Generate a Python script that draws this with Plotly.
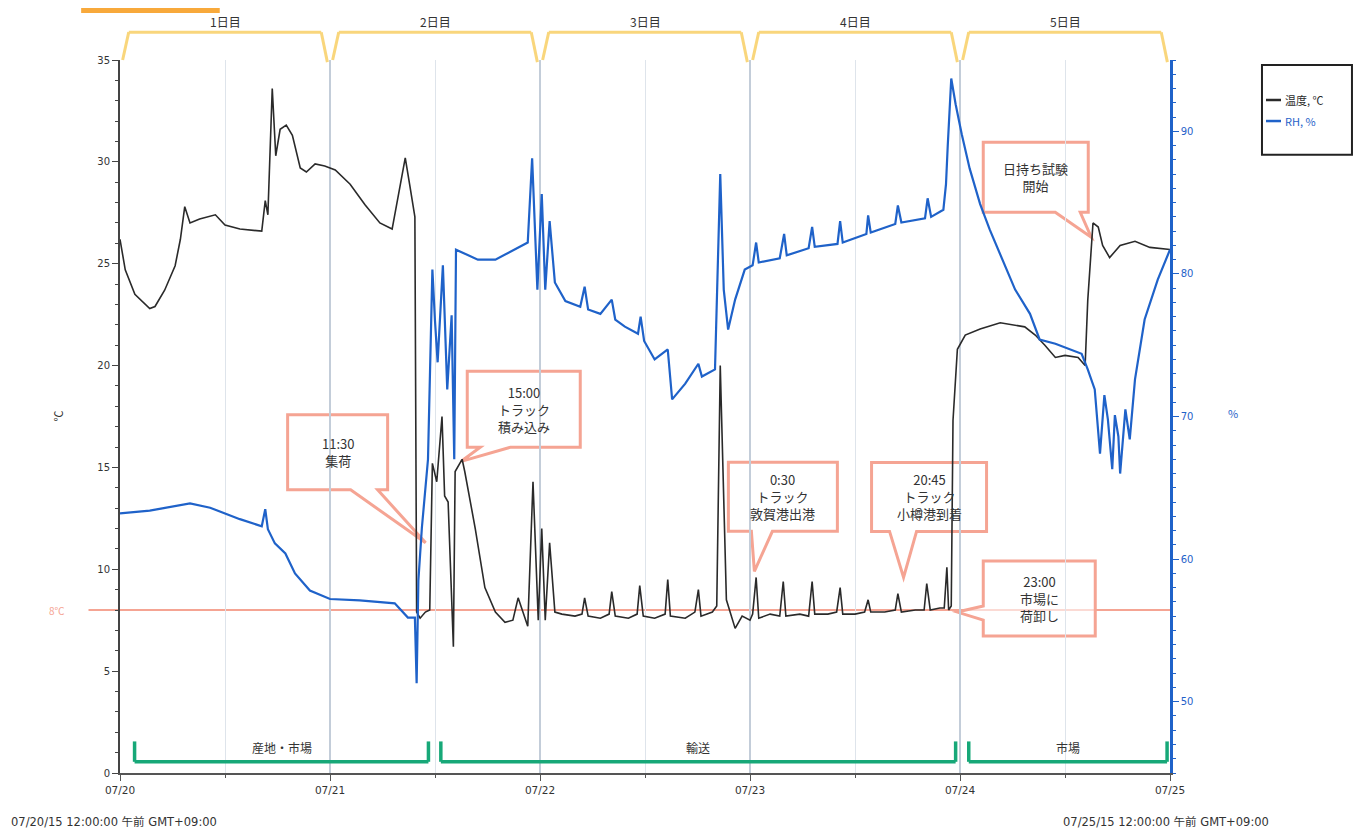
import pandas as pd
import plotly.graph_objects as go

START = pd.Timestamp("2015-07-20 00:00")

# ---- data (hours since 07/20 00:00) ----
temp_hours = [0.0, 0.6, 1.7, 3.4, 4.0, 5.1, 6.3, 6.9, 7.4, 8.0, 9.1, 10.9, 12.0, 13.7, 16.2, 16.6, 16.9,
              17.4, 17.8, 18.3, 19.0, 19.7, 20.6, 21.3, 22.3, 23.4, 24.6, 26.3, 28.0, 29.7, 31.1, 32.0,
              32.6, 33.1, 33.7, 33.9, 34.3, 34.9, 35.4, 35.7, 36.2, 36.8, 37.1, 37.5, 38.1, 38.3, 39.1,
              39.4, 40.6, 41.7, 42.9, 44.0, 44.9, 45.5, 46.6, 47.2, 47.8, 48.2, 48.6, 49.1, 49.7, 50.5,
              52.0, 52.8, 53.1, 53.5, 54.9, 55.9, 56.2, 56.6, 58.1, 59.1, 59.4, 59.8, 61.1, 62.3, 62.6,
              62.9, 64.6, 65.7, 66.1, 66.4, 67.7, 68.2, 68.6, 69.3, 70.3, 71.1, 72.0, 72.3, 72.7, 73.0,
              74.3, 75.4, 75.8, 76.1, 77.7, 78.7, 79.1, 79.4, 80.9, 81.9, 82.3, 82.6, 84.0, 85.1, 85.5,
              85.8, 87.4, 88.6, 88.9, 89.3, 90.9, 91.9, 92.2, 92.6, 93.7, 94.2, 94.5, 94.7, 95.0, 95.2,
              95.7, 96.6, 98.3, 100.6, 103.4, 104.6, 105.7, 106.9, 108.0, 109.5, 110.3, 110.6, 111.2,
              111.8, 112.3, 113.1, 114.3, 116.0, 117.7, 120.0]
temp_values = [26.2, 24.7, 23.5, 22.8, 22.9, 23.7, 24.9, 26.2, 27.8, 27.0, 27.2, 27.4, 26.9, 26.7, 26.6, 28.1, 27.4,
               33.6, 30.3, 31.6, 31.8, 31.3, 29.7, 29.5, 29.9, 29.8, 29.6, 28.9, 27.9, 27.0, 26.7, 28.9,
               30.2, 28.9, 27.3, 7.9, 7.6, 7.9, 8.0, 15.2, 14.3, 17.5, 13.6, 13.3, 6.2, 14.8, 15.4,
               14.8, 12.0, 9.1, 7.9, 7.4, 7.5, 8.6, 7.2, 14.3, 7.5, 12.0, 7.5, 11.3, 7.9, 7.8,
               7.7, 7.8, 8.6, 7.7, 7.6, 7.8, 8.9, 7.7, 7.6, 7.8, 9.2, 7.7, 7.6, 7.8, 9.5,
               7.7, 7.6, 7.9, 9.0, 7.7, 7.9, 8.2, 20.0, 8.5, 7.1, 7.7, 7.5, 7.8, 9.6, 7.6,
               7.8, 7.7, 9.4, 7.7, 7.8, 7.7, 9.4, 7.8, 7.8, 7.9, 9.1, 7.8, 7.8, 7.9, 8.5,
               7.9, 7.9, 8.0, 8.8, 7.9, 8.0, 8.0, 9.3, 8.0, 8.1, 8.1, 10.1, 8.0, 8.2, 17.3,
               20.8, 21.5, 21.8, 22.1, 21.9, 21.5, 21.0, 20.4, 20.5, 20.4, 20.0, 23.2, 27.0,
               26.8, 25.9, 25.3, 25.9, 26.1, 25.8, 25.7]

rh_hours = [0.0, 3.4, 8.0, 10.3, 13.7, 16.2, 16.6, 16.9, 17.7, 18.9, 20.0, 21.7, 24.0, 27.4, 31.4, 32.9,
            33.7, 33.9, 34.1, 34.5, 35.2, 35.7, 36.0, 36.3, 36.9, 37.4, 37.9, 38.2, 38.4, 39.1, 40.9,
            42.9, 45.1, 46.6, 47.1, 47.7, 48.2, 48.6, 49.1, 49.7, 50.9, 52.6, 53.1, 53.5, 54.9, 56.2,
            56.6, 57.7, 59.2, 59.5, 59.9, 61.1, 62.6, 63.1, 64.6, 66.1, 66.5, 68.0, 68.6, 69.0, 69.5,
            70.3, 71.4, 72.3, 72.7, 73.0, 75.4, 75.9, 76.2, 78.7, 79.1, 79.4, 82.0, 82.3, 82.6, 85.3,
            85.5, 85.8, 88.6, 88.9, 89.3, 92.0, 92.3, 92.7, 94.1, 94.4, 94.6, 95.0, 95.5, 96.2, 97.1,
            98.3, 99.4, 100.6, 102.3, 104.0, 105.1, 106.9, 108.6, 109.9, 110.6, 111.4, 112.0, 112.5,
            112.9, 113.4, 113.7, 114.1, 114.3, 114.9, 115.4, 116.0, 117.1, 118.6, 120.0]
rh_values = [63.2, 63.4, 63.9, 63.6, 62.8, 62.3, 63.5, 62.1, 61.1, 60.4, 59.0, 57.8, 57.2, 57.1, 56.9, 55.9,
             55.9, 51.3, 58.5, 62.2, 67.0, 80.3, 76.7, 73.8, 80.6, 71.9, 77.1, 67.0, 81.7, 81.5, 81.0,
             81.0, 81.7, 82.2, 88.1, 78.9, 85.6, 78.9, 83.7, 79.4, 78.1, 77.7, 79.1, 77.5, 77.2, 78.2,
             76.8, 76.3, 75.8, 77.0, 75.3, 74.0, 74.7, 71.2, 72.3, 73.7, 72.8, 73.3, 87.0, 78.9, 76.1,
             78.2, 80.3, 80.6, 82.2, 80.8, 81.1, 82.8, 81.3, 81.8, 83.3, 81.9, 82.1, 83.7, 82.2, 82.8,
             84.1, 82.9, 83.5, 84.8, 83.6, 83.9, 85.3, 84.0, 84.5, 86.3, 89.0, 93.7, 91.9, 89.8, 87.4,
             84.9, 83.1, 81.4, 78.9, 77.2, 75.4, 75.1, 74.7, 74.4, 73.3, 71.9, 67.4, 71.5,
             69.8, 66.3, 70.1, 68.6, 66.0, 70.5, 68.4, 72.6, 76.8, 79.6, 81.7]

series_names = ["温度, ℃", "RH, %"]
day_labels = ["1日目", "2日目", "3日目", "4日目", "5日目"]
stage_labels = ["産地・市場", "輸送", "市場"]
stage_start = ["2015-07-20 01:40", "2015-07-21 12:40", "2015-07-24 01:00"]
stage_end = ["2015-07-21 11:15", "2015-07-23 23:30", "2015-07-24 23:40"]

event_times = ["2015-07-21 11:30", "2015-07-21 15:00", "2015-07-23 00:30",
               "2015-07-23 20:45", "2015-07-23 23:00", "2015-07-24 15:00"]
event_values = [11.3, 15.3, 9.9, 9.6, 7.9, 26.3]
event_texts = ["11:30<br>集荷", "15:00<br>トラック<br>積み込み", "0:30<br>トラック<br>敦賀港出港",
               "20:45<br>トラック<br>小樽港到着", "23:00<br>市場に<br>荷卸し", "日持ち試験<br>開始"]
threshold = 8

# ---- callout geometry (pixels relative to the anchor point, y up) ----
# (tip_dx, left, right, top, bottom, tail_side, tail_a, tail_b)
callout_geom = [
    (-5, -143, -43, 128, 53, "bottom", -80, -53),
    (0, 6, 119, 90, 14, "bottom", 19, 49),
    (0, -26, 83, 109, 40, "bottom", -3, 18),
    (-28, -60, 55, 115, 46, "bottom", -42, -15),
    (6, 32, 144, 51, -24, "left", -8, 6),
    (0, -108, -3, 95, 25, "bottom", -36, -11),
]

SALMON = "#F5A493"
BLUE = "#1F62C9"
BLACK = "#2A2A2A"
YELLOW = "#F9D67C"
GREEN = "#17A878"
FONT = "Noto Sans CJK JP"
TICKFONT = "DejaVu Sans, Noto Sans CJK JP"

t_temp = START + pd.to_timedelta(temp_hours, unit="h")
t_rh = START + pd.to_timedelta(rh_hours, unit="h")

fig = go.Figure()
fig.add_trace(go.Scatter(x=t_temp, y=temp_values, mode="lines", name=series_names[0],
                         line=dict(color=BLACK, width=1.6)))
fig.add_trace(go.Scatter(x=t_rh, y=rh_values, mode="lines", name=series_names[1],
                         line=dict(color=BLUE, width=2.2), yaxis="y2"))

shapes = []
annotations = []

# 8 C threshold line
shapes.append(dict(type="line", xref="paper", yref="y", x0=-0.03, x1=1, y0=threshold, y1=threshold,
                   line=dict(color=SALMON, width=2), layer="below"))
annotations.append(dict(xref="paper", yref="y", x=-0.06, y=threshold, xanchor="center", yanchor="middle",
                        text="8℃", showarrow=False, font=dict(color=SALMON, size=10, family=FONT)))

# top day brackets
for i, lab in enumerate(day_labels):
    d0 = START + pd.Timedelta(days=i)
    d1 = START + pd.Timedelta(days=i + 1)
    a = d0 + pd.Timedelta(hours=0.3)
    b = d0 + pd.Timedelta(hours=1.0)
    c = d1 - pd.Timedelta(hours=1.0)
    e = d1 - pd.Timedelta(hours=0.3)
    for (xa, ya, xb, yb) in [(a, 1.0, b, 1.039), (b, 1.039, c, 1.039), (c, 1.039, e, 0.997)]:
        shapes.append(dict(type="line", xref="x", yref="paper", x0=xa, x1=xb, y0=ya, y1=yb,
                           line=dict(color=YELLOW, width=3)))
    annotations.append(dict(xref="x", yref="paper", x=d0 + pd.Timedelta(hours=12), y=1.0535,
                            xanchor="center", yanchor="middle",
                            text=lab, showarrow=False, font=dict(size=12, color="#333", family=FONT)))

# bottom stage brackets
for lab, s0, s1 in zip(stage_labels, stage_start, stage_end):
    for (xa, ya, xb, yb) in [(s0, 1.55, s0, 0.55), (s0, 0.55, s1, 0.55), (s1, 0.55, s1, 1.55)]:
        shapes.append(dict(type="line", xref="x", yref="y", x0=xa, x1=xb, y0=ya, y1=yb,
                           line=dict(color=GREEN, width=3.5)))
    mid = pd.Timestamp(s0) + (pd.Timestamp(s1) - pd.Timestamp(s0)) / 2
    annotations.append(dict(xref="x", yref="y", x=mid, y=1.25, text=lab, showarrow=False,
                            font=dict(size=12, color="#333", family=FONT)))

# callouts
for t, v, txt, g in zip(event_times, event_values, event_texts, callout_geom):
    tip, L, R, T, B, side, ta, tb = g
    if side == "bottom":
        pts = [(L, T), (R, T), (R, B), (tb, B), (tip, 0), (ta, B), (L, B)]
    else:
        pts = [(L, T), (R, T), (R, B), (L, B), (L, ta), (tip, 0), (L, tb)]
    path = "M " + " L ".join("%g,%g" % p for p in pts) + " Z"
    shapes.append(dict(type="path", xref="x", yref="y", xsizemode="pixel", ysizemode="pixel",
                       xanchor=t, yanchor=v, path=path, layer="below",
                       line=dict(color=SALMON, width=3), fillcolor="rgba(255,255,255,0.6)"))
    annotations.append(dict(xref="x", yref="y", x=t, y=v, xshift=(L + R) / 2, yshift=(T + B) / 2,
                            text=txt, showarrow=False, align="center",
                            font=dict(size=13, color="#333", family=FONT)))

# orange tab at the top left (mostly above the page edge)
shapes.append(dict(type="rect", xref="paper", yref="paper", x0=-0.037, x1=0.095, y0=1.066, y1=1.09,
                   line=dict(width=0), fillcolor="#F8A93B"))

# legend (drawn by hand: short line samples, coloured labels)
shapes.append(dict(type="rect", xref="paper", yref="paper", x0=1.0876, x1=1.1733, y0=0.867, y1=0.993,
                   line=dict(color="#222", width=2), fillcolor="rgba(0,0,0,0)"))
for name, col, yy in zip(series_names, [BLACK, BLUE], [0.9439, 0.9144]):
    shapes.append(dict(type="line", xref="paper", yref="paper", x0=1.0914, x1=1.1057, y0=yy, y1=yy,
                       line=dict(color=col, width=2.5)))
    annotations.append(dict(xref="paper", yref="paper", x=1.1075, y=yy, xanchor="left", yanchor="middle",
                            text=name, showarrow=False, font=dict(size=11, color=col, family=FONT)))

# axis titles and footer
annotations.append(dict(xref="paper", yref="paper", x=-0.06, y=0.5, xanchor="center", yanchor="middle",
                        text="℃", showarrow=False, textangle=-90,
                        font=dict(size=11, color="#333", family=FONT)))
annotations.append(dict(xref="paper", yref="paper", x=1.06, y=0.505, xanchor="center", yanchor="middle",
                        text="%", showarrow=False, font=dict(size=11, color=BLUE, family=FONT)))
annotations.append(dict(xref="paper", yref="paper", x=-0.106, y=-0.0687, xanchor="left", yanchor="middle",
                        text="07/20/15 12:00:00 午前 GMT+09:00", showarrow=False,
                        font=dict(size=11.5, color="#333", family=TICKFONT)))
annotations.append(dict(xref="paper", yref="paper", x=0.896, y=-0.0687, xanchor="left", yanchor="middle",
                        text="07/25/15 12:00:00 午前 GMT+09:00", showarrow=False,
                        font=dict(size=11.5, color="#333", family=TICKFONT)))

fig.update_layout(
    width=1367, height=830,
    margin=dict(l=112, r=205, t=52, b=65),
    paper_bgcolor="white", plot_bgcolor="white",
    font=dict(family=FONT, size=9, color="#333"),
    showlegend=False,
    xaxis=dict(type="date", range=["2015-07-20", "2015-07-25"], tick0="2015-07-20", dtick=86400000,
               tickformat="%m/%d", ticks="outside", ticklen=6, tickcolor="#555",
               showgrid=True, gridcolor="#C3CDD9", gridwidth=2, zeroline=False,
               showline=True, linecolor="#555", linewidth=2,
               tickfont=dict(size=10.5, color="#333", family=TICKFONT),
               minor=dict(dtick=43200000, ticks="outside", ticklen=3, tickcolor="#555",
                          showgrid=True, gridcolor="#DEE4EB", gridwidth=1)),
    yaxis=dict(range=[0, 35], dtick=5, ticks="outside", ticklen=6, tickcolor="#444",
               showgrid=False, zeroline=False, showline=True, linecolor="#444", linewidth=2,
               tickfont=dict(size=10, color="#333", family=TICKFONT),
               minor=dict(dtick=1, ticks="outside", ticklen=3, tickcolor="#444")),
    yaxis2=dict(range=[45, 95], overlaying="y", side="right", tick0=50, dtick=10,
                ticks="outside", ticklen=6, tickcolor=BLUE, showgrid=False, zeroline=False,
                showline=True, linecolor=BLUE, linewidth=2.5,
                tickfont=dict(size=10, color=BLUE, family=TICKFONT),
                minor=dict(dtick=1, ticks="outside", ticklen=3, tickcolor=BLUE)),
    shapes=shapes,
    annotations=annotations,
)

fig.write_html("out.html")
